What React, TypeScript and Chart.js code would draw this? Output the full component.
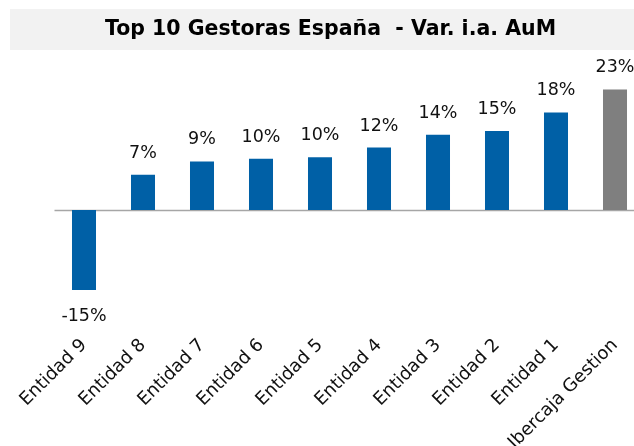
import React, { useEffect, useRef } from 'react';
import { Chart, registerables } from 'chart.js';

Chart.register(...registerables);

const chartTitle = 'Top 10 Gestoras España  - Var. i.a. AuM';
const categories = [
  'Entidad 9',
  'Entidad 8',
  'Entidad 7',
  'Entidad 6',
  'Entidad 5',
  'Entidad 4',
  'Entidad 3',
  'Entidad 2',
  'Entidad 1',
  'Ibercaja Gestion',
];
const values = [-15, 6.6, 9.1, 9.6, 9.9, 11.7, 14.1, 14.8, 18.3, 22.6];
const highlighted = 'Ibercaja Gestion';

const BLUE = '#0060A6';
const GRAY = '#7F7F7F';

export default function App() {
  const ref = useRef<HTMLCanvasElement>(null);

  useEffect(() => {
    const canvas = ref.current;
    if (!canvas) return;

    const titleBand = {
      id: 'titleBand',
      beforeDraw(chart: any) {
        const ctx = chart.ctx;
        ctx.save();
        ctx.fillStyle = '#f2f2f2';
        ctx.fillRect(10, 9, chart.width - 10, 41);
        ctx.fillStyle = '#000000';
        ctx.font = 'bold 20.5px "DejaVu Sans"';
        ctx.textAlign = 'center';
        ctx.textBaseline = 'middle';
        ctx.fillText(chartTitle, 330.5, 30);
        ctx.restore();
      },
    };

    const zeroLine = {
      id: 'zeroLine',
      beforeDatasetsDraw(chart: any) {
        const ctx = chart.ctx;
        const y = Math.round(chart.scales.y.getPixelForValue(0)) + 0.5;
        ctx.save();
        ctx.strokeStyle = '#a6a6a6';
        ctx.lineWidth = 1.5;
        ctx.beginPath();
        ctx.moveTo(chart.chartArea.left, y);
        ctx.lineTo(chart.width, y);
        ctx.stroke();
        ctx.restore();
      },
    };

    const valueLabels = {
      id: 'valueLabels',
      afterDatasetsDraw(chart: any) {
        const ctx = chart.ctx;
        const meta = chart.getDatasetMeta(0);
        ctx.save();
        ctx.fillStyle = '#111111';
        ctx.font = '17.5px "DejaVu Sans"';
        ctx.textAlign = 'center';
        ctx.textBaseline = 'alphabetic';
        meta.data.forEach((bar: any, i: number) => {
          const v = values[i];
          const text = Math.round(v) + '%';
          const y = v >= 0 ? bar.y - 17 : bar.y + 31;
          ctx.fillText(text, bar.x, y);
        });
        ctx.restore();
      },
    };

    const chart = new Chart(canvas, {
      type: 'bar',
      data: {
        labels: categories,
        datasets: [
          {
            data: values,
            backgroundColor: categories.map((c) => (c === highlighted ? GRAY : BLUE)),
            categoryPercentage: 0.407,
            barPercentage: 1,
          },
        ],
      },
      options: {
        responsive: false,
        animation: false,
        devicePixelRatio: 1,
        layout: { padding: { left: 54.5, right: 15.5, top: 76.67, bottom: 0 } },
        plugins: {
          legend: { display: false },
          tooltip: { enabled: false },
          title: { display: false },
        },
        scales: {
          x: {
            grid: { display: false },
            border: { display: false },
            ticks: {
              autoSkip: false,
              maxRotation: 45,
              minRotation: 45,
              color: '#111111',
              padding: 10,
              font: { family: '"DejaVu Sans"', size: 18 },
            },
            afterFit: (scale: any) => {
              scale.height = 129.33;
            },
          },
          y: {
            display: false,
            min: -20,
            max: 25,
          },
        },
      },
      plugins: [titleBand, zeroLine, valueLabels],
    });

    return () => chart.destroy();
  }, []);

  return (
    <div
      style={{
        position: 'absolute',
        left: 0,
        top: 0,
        width: 634,
        height: 446,
        overflow: 'hidden',
        background: '#ffffff',
      }}
    >
      <canvas ref={ref} width={660} height={446} style={{ display: 'block' }} />
    </div>
  );
}
